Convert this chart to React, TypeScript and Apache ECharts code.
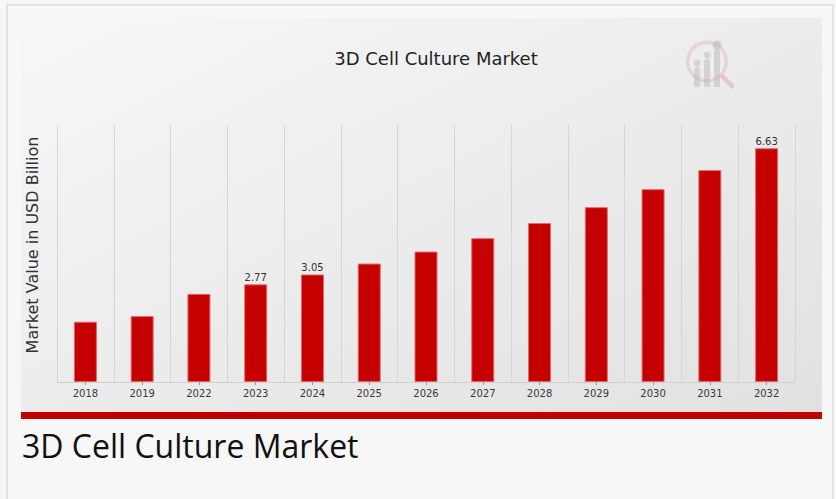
import React, { useEffect, useRef } from "react";
import * as echarts from "echarts";

const categories = ["2018", "2019", "2022", "2023", "2024", "2025", "2026", "2027", "2028", "2029", "2030", "2031", "2032"];
const marketValues = [1.71, 1.87, 2.5, 2.77, 3.05, 3.36, 3.7, 4.08, 4.51, 4.96, 5.47, 6.01, 6.63];
const labelledYears = ["2023", "2024", "2032"];
const chartTitle = "3D Cell Culture Market";
const yAxisTitle = "Market Value in USD Billion";
const captionText = "3D Cell Culture Market";

export default function App() {
  const ref = useRef<HTMLDivElement>(null);

  useEffect(() => {
    if (!ref.current) return;
    const chart = echarts.init(ref.current, undefined, { renderer: "svg" });

    const seriesData = marketValues.map((v, i) => ({
      value: v,
      label: { show: labelledYears.includes(categories[i]) },
    }));

    chart.setOption({
      animation: false,
      backgroundColor: "#f7f7f7",
      grid: { left: 57, right: 41, top: 125, bottom: 117, containLabel: false },
      xAxis: {
        type: "category",
        data: categories,
        boundaryGap: true,
        axisLine: { show: true, lineStyle: { color: "#cfcfcf", width: 1 } },
        axisTick: { show: true, alignWithLabel: true, length: 3, lineStyle: { color: "#9a9a9a" } },
        axisLabel: { color: "#3a3a3a", fontSize: 10, fontFamily: "DejaVu Sans", margin: 6 },
        splitLine: { show: true, lineStyle: { color: "#d6d6d6", width: 1 } },
      },
      yAxis: {
        type: "value",
        min: 0,
        max: 7.29,
        axisLine: { show: false },
        axisTick: { show: false },
        axisLabel: { show: false },
        splitLine: { show: false },
      },
      series: [
        {
          type: "bar",
          data: seriesData,
          barWidth: 23,
          itemStyle: { color: "#c40000", borderColor: "#e06a6a", borderWidth: 1 },
          label: {
            show: false,
            position: "top",
            distance: 2,
            color: "#333333",
            fontSize: 10,
            fontFamily: "DejaVu Sans",
          },
        },
      ],
      graphic: [
        {
          type: "rect",
          z: -20,
          silent: true,
          shape: { x: 7, y: 5, width: 826, height: 510 },
          style: { fill: "#f7f7f7", stroke: "#e2e2e2", lineWidth: 2 },
        },
        {
          type: "rect",
          z: -10,
          silent: true,
          shape: { x: 21, y: 18, width: 801, height: 394 },
          style: {
            fill: new echarts.graphic.LinearGradient(0, 0, 1, 1, [
              { offset: 0, color: "#f7f7f7" },
              { offset: 1, color: "#e1e1e1" },
            ]),
          },
        },
        {
          type: "rect",
          z: 5,
          silent: true,
          shape: { x: 21, y: 412, width: 801, height: 7 },
          style: { fill: "#c20000" },
        },
        {
          type: "group",
          z: 1,
          silent: true,
          children: [
            { type: "line", shape: { x1: 723, y1: 77, x2: 732, y2: 86 }, style: { stroke: "rgba(220,120,130,0.3)", lineWidth: 5, lineCap: "round" } },
            { type: "ring", shape: { cx: 707, cy: 61.5, r: 21, r0: 17.5 }, style: { fill: "rgba(220,130,140,0.25)" } },
            { type: "rect", shape: { x: 694, y: 67, width: 6, height: 20, r: [3, 3, 0, 0] }, style: { fill: "rgba(175,175,175,0.4)" } },
            { type: "rect", shape: { x: 704, y: 59, width: 6, height: 28, r: [3, 3, 0, 0] }, style: { fill: "rgba(175,175,175,0.4)" } },
            { type: "rect", shape: { x: 714, y: 49, width: 6, height: 38, r: [3, 3, 0, 0] }, style: { fill: "rgba(175,175,175,0.4)" } },
            { type: "circle", shape: { cx: 697, cy: 63, r: 3.5 }, style: { fill: "rgba(175,175,175,0.4)" } },
            { type: "circle", shape: { cx: 707, cy: 55, r: 3.5 }, style: { fill: "rgba(175,175,175,0.4)" } },
            { type: "circle", shape: { cx: 717, cy: 45, r: 4.5 }, style: { fill: "rgba(175,175,175,0.45)" } },
          ],
        },
        {
          type: "text",
          z: 10,
          silent: true,
          x: 436,
          y: 58,
          style: {
            text: chartTitle,
            fill: "#222222",
            fontSize: 18,
            fontFamily: "DejaVu Sans",
            align: "center",
            verticalAlign: "middle",
          },
        },
        {
          type: "text",
          z: 10,
          silent: true,
          x: 32,
          y: 245,
          rotation: Math.PI / 2,
          style: {
            text: yAxisTitle,
            fill: "#333333",
            fontSize: 16,
            fontFamily: "DejaVu Sans",
            align: "center",
            verticalAlign: "middle",
          },
        },
        {
          type: "text",
          z: 10,
          silent: true,
          x: 22,
          y: 445,
          style: {
            text: captionText,
            fill: "#111111",
            fontSize: 32,
            fontFamily: "Open Sans",
            align: "left",
            verticalAlign: "middle",
          },
        },
      ],
    });

    return () => chart.dispose();
  }, []);

  return (
    <div
      ref={ref}
      style={{ position: "absolute", left: 0, top: 0, width: 836, height: 499 }}
    />
  );
}
